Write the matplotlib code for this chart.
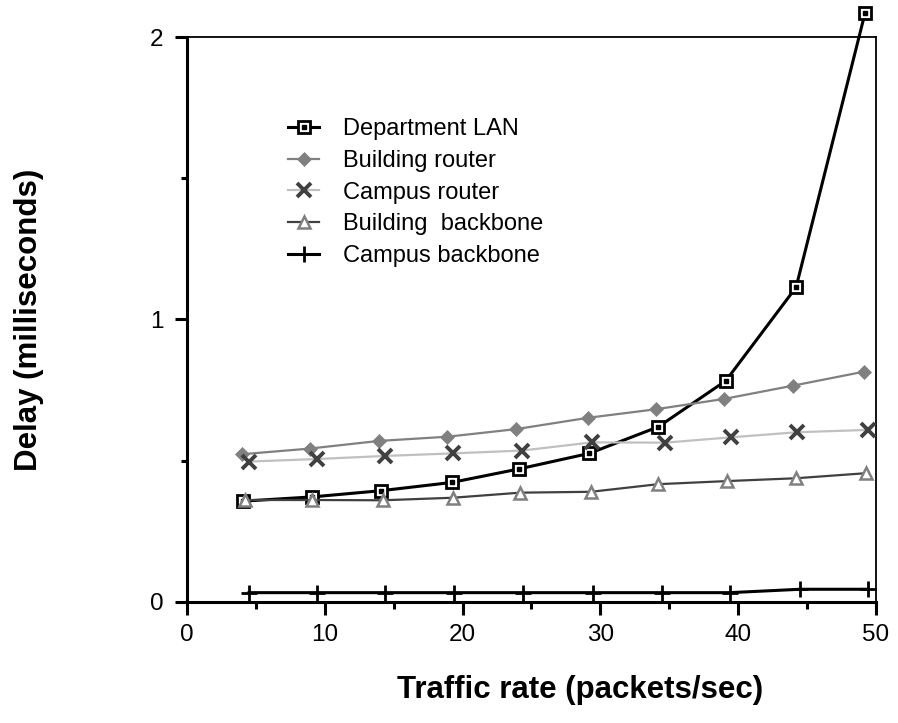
import matplotlib
matplotlib.use("Agg")
import matplotlib.pyplot as plt
from matplotlib.legend_handler import HandlerTuple
from matplotlib.ticker import MultipleLocator

plt.rcParams['font.family'] = ['Liberation Sans', 'DejaVu Sans']

# traffic rate (packets/sec) per series
x_lan = [4.1, 9.1, 14.1, 19.2, 24.1, 29.2, 34.2, 39.1, 44.2, 49.2]
x_brouter = [4.0, 8.9, 13.9, 18.9, 23.9, 29.1, 34.0, 39.0, 44.0, 49.1]
x_crouter = [4.5, 9.4, 14.4, 19.3, 24.3, 29.4, 34.7, 39.5, 44.3, 49.4]
x_bback = [4.2, 9.1, 14.2, 19.3, 24.2, 29.3, 34.2, 39.2, 44.2, 49.3]
x_cback = [4.5, 9.4, 14.4, 19.4, 24.4, 29.5, 34.5, 39.4, 44.5, 49.4]

# delay (milliseconds)
y_lan = [0.357, 0.372, 0.394, 0.423, 0.471, 0.526, 0.620, 0.783, 1.114, 2.084]
y_brouter = [0.523, 0.543, 0.570, 0.585, 0.612, 0.652, 0.682, 0.719, 0.766, 0.815]
y_crouter = [0.497, 0.506, 0.517, 0.526, 0.536, 0.565, 0.564, 0.583, 0.601, 0.609]
y_bback = [0.361, 0.361, 0.360, 0.369, 0.387, 0.390, 0.417, 0.428, 0.438, 0.456]
y_cback = [0.033, 0.033, 0.033, 0.033, 0.033, 0.033, 0.033, 0.033, 0.045, 0.045]

labels = ['Department LAN', 'Building router', 'Campus router',
          'Building  backbone', 'Campus backbone']

fig = plt.figure(figsize=(8.98, 7.23), dpi=100)
ax = fig.add_axes([0.2082, 0.1674, 0.7673, 0.7814])

lan, = ax.plot(x_lan, y_lan, color='black', lw=2.2, marker='s', ms=9,
               mfc='white', mec='black', mew=2.0, clip_on=False, zorder=3)
lan_dot, = ax.plot(x_lan, y_lan, ls='none', marker='s', ms=2.2,
                   color='black', clip_on=False, zorder=4)
brouter, = ax.plot(x_brouter, y_brouter, color='#808080', lw=1.6, marker='D',
                   ms=7.5, mew=0.5, clip_on=False, zorder=3)
crouter, = ax.plot(x_crouter, y_crouter, color='#c0c0c0', lw=1.6, marker='x',
                   ms=9.5, mec='#404040', mew=2.8, clip_on=False, zorder=3)
bback, = ax.plot(x_bback, y_bback, color='#404040', lw=1.6, marker='^', ms=9,
                 mfc='white', mec='#808080', mew=1.8, clip_on=False, zorder=5)
cback, = ax.plot(x_cback, y_cback, color='black', lw=2.2, marker='+', ms=11,
                 mew=2.0, clip_on=False, zorder=3)

ax.set_xlim(0, 50)
ax.set_ylim(0, 2)
ax.xaxis.set_major_locator(MultipleLocator(10))
ax.xaxis.set_minor_locator(MultipleLocator(5))
ax.yaxis.set_major_locator(MultipleLocator(1))
ax.yaxis.set_minor_locator(MultipleLocator(0.5))

for side in ['left', 'bottom']:
    ax.spines[side].set_linewidth(2.2)
for side in ['top', 'right']:
    ax.spines[side].set_linewidth(1.3)

ax.tick_params(axis='x', which='major', direction='out', length=9, width=2.2,
               labelsize=17.5, pad=7, top=False)
ax.tick_params(axis='x', which='minor', direction='out', length=5, width=2.2,
               top=False)
ax.tick_params(axis='y', which='major', direction='out', length=9, width=2.2,
               labelsize=17.5, pad=8, right=False)
ax.tick_params(axis='y', which='minor', direction='out', length=4, width=2.2,
               right=False)

ax.set_xlabel('Traffic rate (packets/sec)', fontsize=22.5, fontweight='bold')
ax.set_ylabel('Delay (milliseconds)', fontsize=22.5, fontweight='bold')
ax.xaxis.set_label_coords(0.57, -0.13)
ax.yaxis.set_label_coords(-0.207, 0.5)

ax.legend([(lan, lan_dot), brouter, crouter, bback, cback], labels,
          handler_map={tuple: HandlerTuple(ndivide=1)},
          loc='upper left', bbox_to_anchor=(0.147, 0.856), frameon=False,
          fontsize=17, borderpad=0, borderaxespad=0, handlelength=1.3,
          handletextpad=1.0, labelspacing=0.41, numpoints=1)

fig.savefig('out.png', dpi=100)
